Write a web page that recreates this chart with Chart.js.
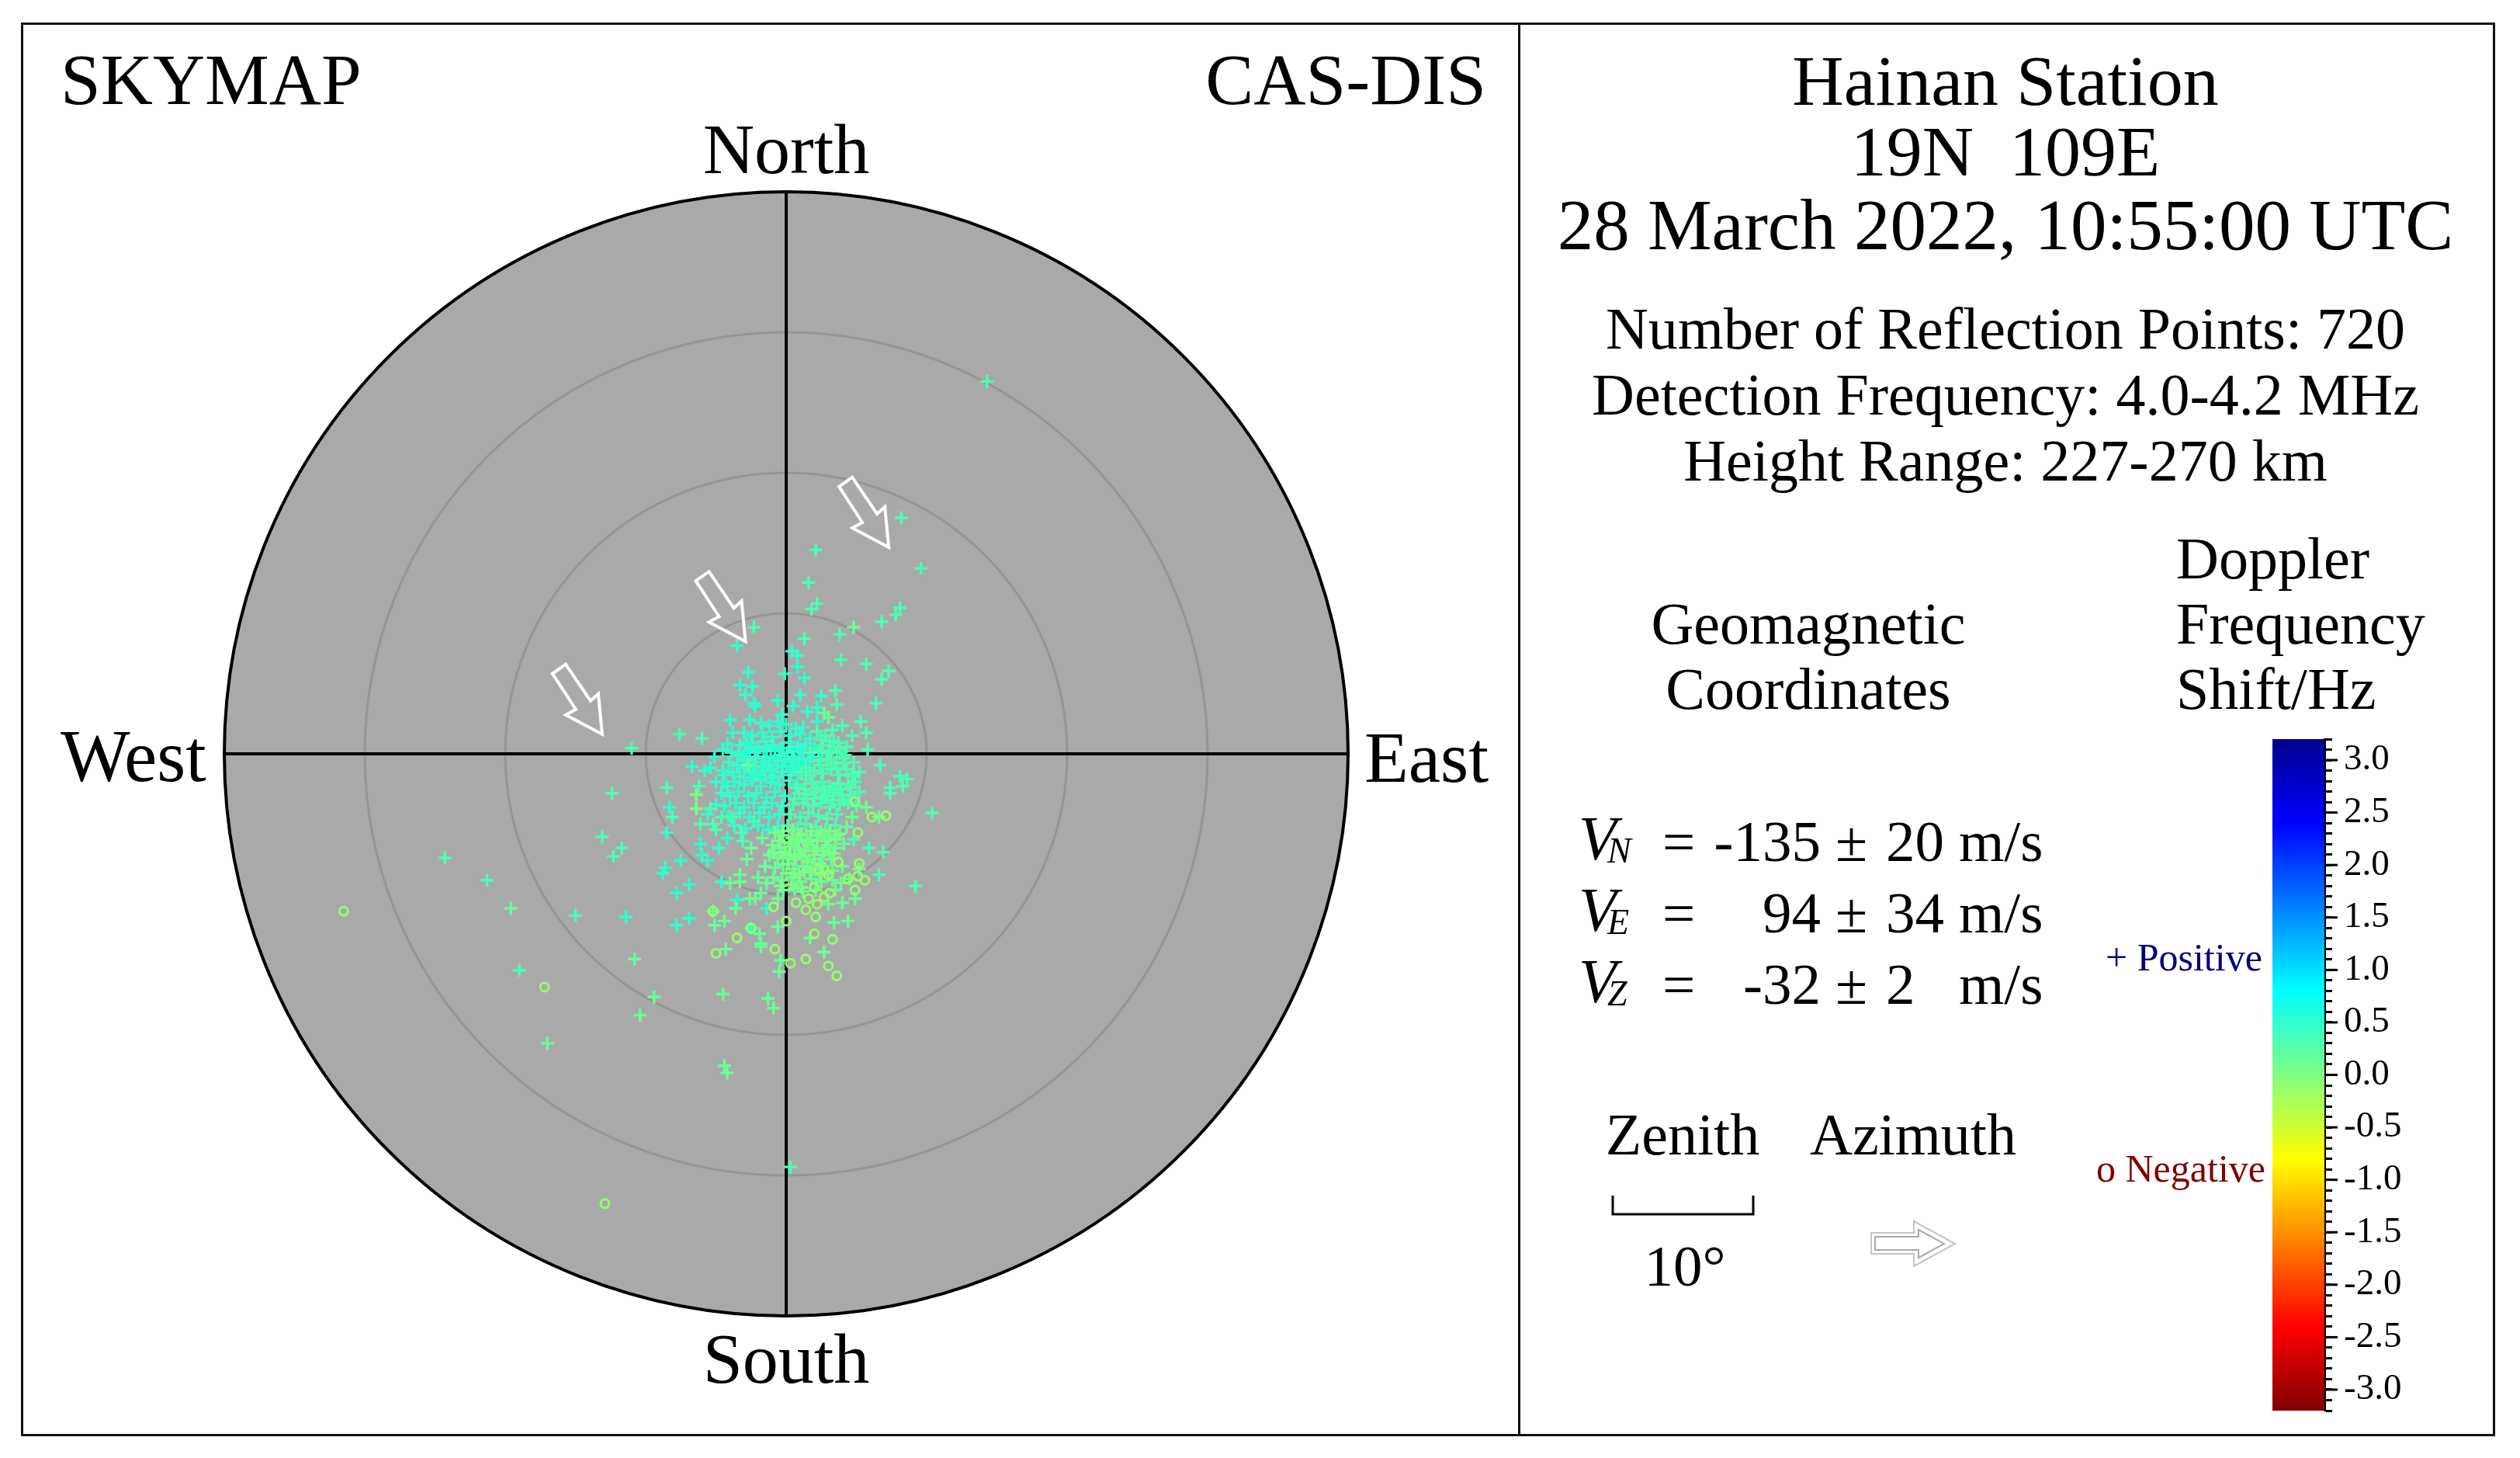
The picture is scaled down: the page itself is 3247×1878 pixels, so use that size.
<!DOCTYPE html>
<html>
<head>
<meta charset="utf-8">
<title>SKYMAP</title>
<script src="https://cdn.jsdelivr.net/npm/chart.js@4/dist/chart.umd.min.js"></script>
<style>
html, body { margin: 0; padding: 0; background: #fff; }
#page { position: relative; width: 3247px; height: 1878px; overflow: hidden; background: #fff; }
canvas { position: absolute; }
.label { position: absolute; font-family: "Liberation Serif", serif; line-height: 1; white-space: pre; color: #000; }
.frame { position: absolute; box-sizing: border-box; border: 3px solid #111; }
</style>
</head>
<body>
<div id="page">
  <div class="frame" style="left:27px;top:29px;width:3188px;height:1821px"></div>
  <div class="frame" style="left:1956px;top:29px;width:3px;height:1821px;border-width:0 0 0 3px"></div>
  <canvas id="sky" width="3247" height="1878" style="left:0;top:0"></canvas>
  <canvas id="colorbar" width="207" height="930" style="left:2900px;top:920px"></canvas>
</div>
<script>
// reflection points, east / north zenith angle in degrees, grouped by doppler band
const tealShift = 0.5;
const tealEast = [-3.5,.4,.8,.8,-.1,-2.7,-3.3,-2.4,-2.9,-2.3,-2.2,-.6,1.3,-4,-2.6,-3.8,-3,-2.8,-4.2,-4.5,-3.9,-2.9,-5.1,-6.7,-5.8,-5.4,-4.5,-4.5,.5,-.3,1.5,2.2,1.2,2.2,1,2.5,-8.3,-8.8,-8.6,-6.9,-7.8,-7.8,-6.9,-6.1,-6,-5.6,-7.5,-8.5,-11.4,-4.2,-4.8,-3.5,-1.4,-2.5,-4.6,
  -1.8,-1.2,-.6,0,.7,-2.4,-1.7,-1,-.4,.3,1,1.7,-3.3,-2.5,-2,-1.5,-.9,-.4,.2,.8,1.4,2,-3.4,-2.8,-2.2,-1.6,-1.1,-.5,.1,.6,1.2,1.9,2.5,-4.1,-3.5,-2.9,-2.3,-1.7,-1.2,-.6,0,.5,1.1,1.7,-4.4,-3.8,-3.3,-2.6,-2,-1.5,-.9,-.3,.3,.9,-5,-4.2,-3.7,-3,-2.4,-1.8,-1.1,-.5,.2,.8,-4.6,-4,-3.4,-2.7,-2.1,-1.4,-.8,-.1,-5,-4.4,-3.6,-3,-2.3,-1.6,-1,-.3,-5.6,-4.1,-3.3,-2.6,-1.9,-1.2,-.5,-3.7,-2.9,-2,-1.3,-.6,
  -2.6,-2,-1.4,-.8,-.2,.4,1,-2.8,-2.2,-1.4,-.8,-.1,.5,1.2,-3,-2.4,-1.7,-1,-.3,.4,1,-2.5,-1.8,-1.1];
const tealNorth = [7.7,7.3,7,6.2,5.7,5.8,4.9,4.8,4.2,3.6,3.4,3.8,5.4,2.4,2.4,1.5,1.5,.8,.7,.3,.1,.1,-.2,-.9,-1.2,-1,-1.2,-2,3.4,2.8,3,3.3,1.9,2.3,4.2,4.1,-3.8,-8.5,-8.1,-9.3,-9.9,-12.2,-11.7,-6.4,-7.2,-7.6,-7.6,-5.6,-11.6,-6,-6.7,-10.4,-11,-12.4,-9.1,
  2.2,2,2.3,2.1,1.8,1.3,1.5,1.2,1.6,1.3,1.4,1.1,.6,.8,.5,.9,.6,.4,.8,.5,.7,.4,-.1,-.3,.1,-.2,.2,-.1,.1,-.3,0,-.2,.1,-.6,-.8,-.5,-.9,-.6,-.8,-.5,-.9,-.6,-.8,-.5,-1.5,-1.3,-1.6,-1.3,-1.5,-1.2,-1.6,-1.3,-1.5,-1.3,-2,-2.3,-2,-2.2,-1.9,-2.3,-2,-2.2,-1.9,-2.2,-2.8,-3,-2.7,-3,-2.8,-3.1,-2.7,-3,-3.6,-3.7,-3.5,-3.8,-3.5,-3.8,-3.5,-3.7,-4.3,-4.4,-4.2,-4.5,-4.2,-4.5,-4.3,-5.1,-5.3,-5.1,-5.4,-5.2,
  .3,.2,.4,.2,.4,.2,.3,-.4,-.3,-.2,-.3,-.4,-.2,-.4,-1,-1.1,-.9,-1.1,-.9,-1.1,-1,-1.7,-1.8,-1.7];

const mintShift = 0.33;
const mintEast = [14.3,8.2,2.1,9.6,1.6,2.2,1.8,8.1,7.8,6.8,3.8,1.3,-2.3,3.9,5.7,7.3,6.8,6.4,3.5,3.6,4,5.3,5.7,3.3,4.7,4.3,5.8,6.7,4.8,5.2,4.8,8.1,8.6,7.4,8.3,7.4,10.4,-7.6,-6,-11,-8.5,-6.2,-12.4,-8.1,-5.4,-5.2,-6.1,-13.1,-11.7,-12.3,-24.3,-21.3,-15,-19,.3,4.8,5.9,6.9,6.6,9.2,-3.2,-3.1,-2.3,-4.6,-3.9,-5,
  2.2,2.8,3.4,2.6,3.2,3.8,2.3,2.9,3.5,4.1,1.4,2,2.6,3.2,3.8,4.3,1.4,1.9,2.5,3.1,3.7,4.4,4.9,.9,1.5,2.1,2.8,3.4,4,4.6,5.2,.5,1.2,1.9,2.5,3.1,3.8,4.4,5,.3,1,1.6,2.3,2.9,3.6,.1,.8,1.4,2.1,2.8,3.5,
  2.5,3.1,3.7,1.7,2.3,3,3.6,4.2,1.1,1.7,2.4,2.9,3.6,4.1,4.7,.7,1.3,2.2,2.7,3.3,3.9,4.6,.6,1.4,2,2.6,3.3,4.1];
const mintNorth = [26.5,16.8,14.5,13.2,12.2,10.7,10.3,10.4,9.9,9.4,8.5,8.2,9,6.7,6.4,5.9,5.3,3.6,4.5,3.5,2,2.3,1.5,1.7,1.3,.5,.3,-.8,-.6,-1.3,-1.4,-1.6,-1.8,-2.4,-2.3,-2.8,-4.2,1.4,1.1,.4,-2.4,-2.3,-2.8,-4.5,-3.9,-5,-5,-5.9,-6.7,-7.3,-7.4,-9,-11.5,-15.4,-29.4,-6.1,-6.7,-7,-8.6,-9.4,-5.6,-6.2,-4.8,-4.5,-4.5,-5.4,
  1.6,1.3,.9,.6,.2,.4,-.5,-.4,-.6,-.3,-1,-1.2,-1.4,-1.1,-1.5,-1.1,-1.8,-2.1,-2,-2.3,-2.1,-2.2,-2,-2.8,-2.9,-2.7,-3,-2.8,-3,-2.9,-2.7,-3.6,-3.5,-3.7,-3.5,-3.8,-3.6,-3.5,-3.7,-4.3,-4.5,-4.2,-4.4,-4.6,-4.3,-5.1,-5.3,-5,-5.2,-5.4,-5.1,
  1,.9,.8,.1,.2,0,.1,-.1,-1.3,-1.5,-.8,-.8,-1,-.7,-1.6,-2.4,-2.5,-2.4,-2.5,-2.6,-2.5,-2.4,-3.2,-3.2,-3.2,-3.1,-3.3,-3.3];

const greenShift = 0.15;
const greenEast = [4.8,-2.7,-2.8,-2.5,-1.7,-4,-3.3,-3.3,-2,-1.4,-1.8,-2.6,-2.2,-3.6,-.6,-5.1,-4.4,-1.9,-.6,-1.8,-1.8,-4.3,-.4,-.5,-10.8,-4.5,-1.3,-.9,-9.4,-10.4,-17,-4.4,-4.2,-19.6,-5.2,3.4,4.4,1.7,2.7,4,4.9,3,5.2,5.7,4.7,4.3,6.6,2.7,3,
  -.3,.4,1,1.7,2.3,3,3.6,-1,-.4,.3,.9,1.6,2.2,2.9,3.5,4.1,-1.2,-.6,0,.7,1.3,2,2.6,3.2,-1.5,-.8,-.2,.5,1.2,1.8,2.6,3.3,4,-.9,-.3,.4,1,1.8,2.5,3.3,3.9,4.5,-.2,.6,1.2,2.1,3.5];
const greenNorth = [9,-.8,-7.5,-6.7,-6,-9.2,-8.6,-9.1,-8.8,-9.2,-9.9,-10.3,-10.3,-11,-10.3,-12.2,-11.9,-12.8,-12.3,-13.5,-13.7,-13.9,-14.7,-15.5,-14.6,-17.1,-17.4,-18.1,-17.3,-18.6,-20.6,-22.2,-22.7,-11,-11.2,-12,-11.9,-13.1,-14.1,-10.6,-10.3,-10.7,-8.2,-3.8,-4.5,-5.2,-4.5,2.9,2.6,
  -5.8,-6,-5.8,-6.1,-5.8,-6,-5.8,-6.5,-6.7,-6.6,-6.8,-6.5,-6.7,-6.5,-6.7,-6.4,-7.2,-7.4,-7.2,-7.5,-7.3,-7.5,-7.2,-7.5,-8,-8.1,-7.9,-8.2,-8,-8.2,-8,-8.3,-8,-8.8,-9,-8.8,-9.1,-8.9,-9.1,-9,-9.2,-8.9,-9.7,-9.6,-9.8,-9.7,-9.7];

const paleShift = 0.05;
const paleEast = [-6.4,-6.4,.3,1,.1,1.5,.6,-.4,2,.9,.2,1.3,2.4,3.1,
  -.8,-.2,.5,1.1,1.8,2.5,3.1,3.8,-.5,.2,.8,1.5,2.2,2.8,3.5,-.9,-.1,.6,1.3,2,2.7,3.4,0,.9,1.7,2.4,3,-.4,.4,1.1];
const paleNorth = [-2.9,-3.9,-6.4,-7.1,-7.8,-7.7,-8.5,-7,-6.9,-6.2,-7.2,-8.4,-7.8,-7,
  -5.6,-5.5,-5.4,-5.7,-5.5,-5.6,-5.5,-5.7,-6.2,-6.3,-6.1,-6.3,-6.2,-6.2,-6.1,-7,-7,-7.3,-6.9,-7.2,-6.9,-7.1,-8.5,-8.6,-8.4,-8.6,-8.5,-9.4,-9.3,-9.5];

const circleShift = -0.12;
const circleEast = [-31.5,-17.2,-12.9,7.1,6.1,5.1,3.7,5.2,5.1,5.6,4.4,4.9,2.3,3,2,3.1,2.7,2.2,1.6,.7,1.4,2.1,0,-.9,-3.5,-5,-.8,2,3.3,.3,1.4,3,3.6,-2.5,-5.2,4.9];
const circleNorth = [-11.2,-16.6,-32,-4.4,-4.5,-5.6,-7.7,-7.8,-8.7,-9,-8.9,-9.7,-8.2,-8.6,-9.5,-9.9,-10.2,-10.7,-10.3,-10.6,-11.1,-11.6,-11.9,-10.9,-13.1,-14.2,-13.9,-12.8,-13.2,-14.9,-14.6,-15.1,-15.8,-12.4,-11.2,-3.4];

// azimuth arrows: tip position (deg)
const arrowEast = [7.3,-2.9,-13.1];
const arrowNorth = [14.7,8,1.4];
const zenithRings = [10,20,30,40];
const zenithBar = 10;

// colour bar
const barValues = [3.2,2.4,.8,-.8,-2.4,-3.2];
const barColors = [[0,0,140],[0,0,255],[0,255,255],[255,255,0],[255,0,0],[128,0,0]];
const barMin = -3.2, barMax = 3.2;

// text
const titleLeft = "SKYMAP", titleRight = "CAS-DIS";
const compass = ["North","South","West","East"];
const headerLines = ["Hainan Station","19N  109E","28 March 2022, 10:55:00 UTC"];
const infoLines = ["Number of Reflection Points: 720","Detection Frequency: 4.0-4.2 MHz","Height Range: 227-270 km"];
const geoLines = ["Geomagnetic","Coordinates"];
const dopplerLines = ["Doppler","Frequency","Shift/Hz"];
const velNames = ["N","E","Z"];
const velValues = ["-135","94","-32"];
const velErrors = ["20","34","2"];

const page = document.getElementById("page");
function label(text, x, base, size, align, color, italic) {
    let d = document.createElement("div");
    d.className = "label";
    d.textContent = text;
    d.style.fontSize = size + "px";
    d.style.top = (base - 0.8375 * size) + "px";
    if (color) d.style.color = color;
    if (italic) d.style.fontStyle = "italic";
    if (align === "center") { d.style.left = x + "px"; d.style.transform = "translateX(-50%)"; }
    else if (align === "right") { d.style.right = (3247 - x) + "px"; }
    else d.style.left = x + "px";
    page.appendChild(d);
}

label(titleLeft, 78, 134, 93);
label(titleRight, 1915, 134, 93, "right");
label(compass[0], 1013, 223, 92, "center");
label(compass[1], 1013, 1781, 92, "center");
label(compass[2], 78, 1007, 95);
label(compass[3], 1758, 1007, 93);

[135, 226, 321].forEach((y, i) => label(headerLines[i], 2584, y, i === 2 ? 93 : 92, "center"));
[449, 534, 619].forEach((y, i) => label(infoLines[i], 2584, y, 76, "center"));
[829, 913].forEach((y, i) => label(geoLines[i], 2330, y, 76, "center"));
[745, 829, 913].forEach((y, i) => label(dopplerLines[i], 2804, y, 76));

[1109, 1201, 1293].forEach((y, i) => {
    label("V", 2034, y - 2, 80, null, null, true);
    label(velNames[i], 2071, y + 3, 46, null, null, true);
    label("=", 2142, y, 75);
    label(velValues[i], 2346, y, 75, "right");
    label("±", 2365, y, 75);
    label(velErrors[i], 2430, y, 75);
    label("m/s", 2524, y, 75);
});

label("Zenith", 2168, 1487, 76, "center");
label("Azimuth", 2465, 1487, 76, "center");
label(zenithBar + "°", 2171, 1656, 75, "center");
label("+ Positive", 2713, 1250, 50, null, "#000080");
label("o Negative", 2701, 1522, 50, null, "#800000");

function shiftColor(v) {
    for (let i = 0; i < barValues.length - 1; i++) {
        if (v <= barValues[i] && v >= barValues[i + 1]) {
            let t = (barValues[i] - v) / (barValues[i] - barValues[i + 1]);
            let c = barColors[i].map((a, k) => Math.round(a + (barColors[i + 1][k] - a) * t));
            return `rgb(${c[0]},${c[1]},${c[2]})`;
        }
    }
    return "#000";
}

function zip(xs, ys) {
    return xs.map((x, i) => ({ x: x, y: ys[i] }));
}

function plusSet(xs, ys, shift) {
    return { data: zip(xs, ys), pointStyle: "cross", pointRadius: 8.5, pointBorderWidth: 3.4,
             pointBorderColor: shiftColor(shift), showLine: false };
}

const circleSet = { data: zip(circleEast, circleNorth), pointStyle: "circle", pointRadius: 5.5, pointBorderWidth: 3,
                    pointBorderColor: shiftColor(circleShift), pointBackgroundColor: "transparent", showLine: false };

// local outline of the white arrow, pixels from its tip
const arrowShape = [[-64,-78],[-47,-90],[-15,-43],[-5,-52],[0,0],[-47,-25],[-34,-32]];

const skyMapPlugin = {
    id: "skyMap",
    beforeDraw(chart) {
        let c = chart.ctx, xs = chart.scales.x, ys = chart.scales.y;
        let cx = xs.getPixelForValue(0), cy = ys.getPixelForValue(0);
        let outer = xs.getPixelForValue(40) - cx;
        c.save();
        c.beginPath();
        c.arc(cx, cy, outer, 0, Math.PI * 2);
        c.fillStyle = "#a9a9a9";
        c.fill();
        c.strokeStyle = "#959595";
        c.lineWidth = 3;
        zenithRings.slice(0, -1).forEach(r => {
            c.beginPath();
            c.arc(cx, cy, xs.getPixelForValue(r) - cx, 0, Math.PI * 2);
            c.stroke();
        });
        c.beginPath();
        c.arc(cx, cy, outer, 0, Math.PI * 2);
        c.strokeStyle = "#000";
        c.lineWidth = 4;
        c.stroke();
        c.restore();
    },
    afterDatasetsDraw(chart) {
        let c = chart.ctx, xs = chart.scales.x, ys = chart.scales.y;
        c.save();
        c.strokeStyle = "#fff";
        c.lineWidth = 4;
        c.lineJoin = "miter";
        arrowEast.forEach((e, i) => {
            let tx = xs.getPixelForValue(e), ty = ys.getPixelForValue(arrowNorth[i]);
            c.beginPath();
            arrowShape.forEach(p => c.lineTo(tx + p[0], ty + p[1]));
            c.closePath();
            c.stroke();
        });
        // zenith scale bracket
        let w = xs.getPixelForValue(zenithBar) - xs.getPixelForValue(0);
        c.strokeStyle = "#000";
        c.lineWidth = 3;
        c.beginPath();
        c.moveTo(2078, 1540);
        c.lineTo(2078, 1564);
        c.lineTo(2078 + w, 1564);
        c.lineTo(2078 + w, 1540);
        c.stroke();
        // azimuth legend arrow
        c.strokeStyle = "#c4c4c4";
        c.lineWidth = 2;
        c.beginPath();
        [[2411,1588],[2466,1588],[2466,1573],[2519,1602],[2466,1631],[2466,1615],[2411,1615]].forEach(p => c.lineTo(p[0], p[1]));
        c.closePath();
        c.stroke();
        c.strokeStyle = "#aaa";
        c.beginPath();
        [[2416,1593],[2472,1593],[2472,1584],[2505,1602],[2472,1620],[2472,1610],[2416,1610]].forEach(p => c.lineTo(p[0], p[1]));
        c.closePath();
        c.stroke();
        c.restore();
    }
};

function axisLine(ctx) {
    return ctx.tick.value === 0 ? "#000" : "transparent";
}

new Chart(document.getElementById("sky"), {
    type: "scatter",
    data: { datasets: [
        circleSet,
        plusSet(paleEast, paleNorth, paleShift),
        plusSet(greenEast, greenNorth, greenShift),
        plusSet(mintEast, mintNorth, mintShift),
        plusSet(tealEast, tealNorth, tealShift)
    ] },
    options: {
        responsive: false,
        animation: false,
        layout: { padding: { left: 289, top: 247, right: 1510, bottom: 183 } },
        plugins: { legend: { display: false }, tooltip: { enabled: false } },
        scales: {
            x: { type: "linear", min: -40, max: 40, ticks: { stepSize: 40, display: false },
                 grid: { color: axisLine, lineWidth: 4, drawTicks: false }, border: { display: false } },
            y: { type: "linear", min: -40, max: 40, ticks: { stepSize: 40, display: false },
                 grid: { color: axisLine, lineWidth: 4, drawTicks: false }, border: { display: false } }
        }
    },
    plugins: [skyMapPlugin]
});

const majorTicks = {
    id: "majorTicks",
    afterDraw(chart) {
        let c = chart.ctx, s = chart.scales.y;
        c.save();
        c.strokeStyle = "#000";
        c.lineWidth = 3;
        s.ticks.forEach(t => {
            if (Math.round(t.value * 10) % 5 !== 0) return;
            let y = s.getPixelForValue(t.value);
            c.beginPath();
            c.moveTo(s.left, y);
            c.lineTo(s.left + 17, y);
            c.stroke();
        });
        c.restore();
    }
};

new Chart(document.getElementById("colorbar"), {
    type: "bar",
    data: { labels: [""], datasets: [{
        data: [[barMin, barMax]],
        barPercentage: 1,
        categoryPercentage: 1,
        backgroundColor(ctx) {
            let a = ctx.chart.chartArea;
            if (!a) return "#000";
            let g = ctx.chart.ctx.createLinearGradient(0, a.top, 0, a.bottom);
            barValues.forEach((v, i) => g.addColorStop((barMax - v) / (barMax - barMin), shiftColor(v)));
            return g;
        }
    }] },
    options: {
        responsive: false,
        animation: false,
        layout: { padding: { left: 28, top: 32, right: 0, bottom: 33 } },
        plugins: { legend: { display: false }, tooltip: { enabled: false } },
        scales: {
            x: { display: false },
            y: {
                position: "right", min: barMin, max: barMax,
                afterFit(s) { s.width = 112; s.paddingTop = 0; s.paddingBottom = 0; },
                border: { display: true, color: "#000", width: 3 },
                grid: { drawOnChartArea: false, tickLength: 10, tickWidth: 3, tickColor: "#000" },
                ticks: {
                    stepSize: 0.1, autoSkip: false, padding: 15, crossAlign: "near", color: "#000",
                    font: { family: "Liberation Serif", size: 47 },
                    callback(v) { return Math.round(v * 10) % 5 === 0 ? Number(v).toFixed(1) : ""; }
                }
            }
        }
    },
    plugins: [majorTicks]
});
</script>
</body>
</html>
